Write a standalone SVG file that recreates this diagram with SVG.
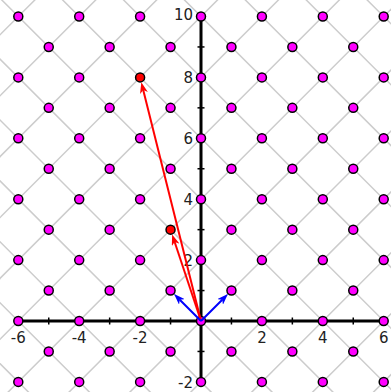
<svg xmlns="http://www.w3.org/2000/svg" width="391" height="392" viewBox="0 0 391 392">
<style>
.grid line{stroke:#cccccc;stroke-width:1.5}
.axis{stroke:#000;stroke-width:3}
.tick{stroke:#000;stroke-width:1.5}
.lbl{font-family:"DejaVu Sans",sans-serif;font-size:15px;fill:#222}
.lx{text-anchor:middle}
.ly{text-anchor:end}
.pt{fill:#ff00ff;stroke:#000;stroke-width:1.5}
.ptr{fill:#ff0000;stroke:#000;stroke-width:1.5}
.ar{stroke:#ff0000;stroke-width:2;fill:none}
.ab{stroke:#0000ff;stroke-width:2;fill:none}
</style>
<defs>
<marker id="hr" viewBox="0 0 11 8" markerWidth="11" markerHeight="8" refX="3" refY="4" orient="auto" markerUnits="userSpaceOnUse"><path d="M0,0 L11,4 L0,8 L3,4 z" fill="#ff0000"/></marker>
<marker id="hb" viewBox="0 0 11 8" markerWidth="11" markerHeight="8" refX="3" refY="4" orient="auto" markerUnits="userSpaceOnUse"><path d="M0,0 L11,4 L0,8 L3,4 z" fill="#0000ff"/></marker>
</defs>
<rect width="391" height="392" fill="#fff"/>
<g class="grid">
<line x1="-10" y1="44.8" x2="44.8" y2="-10"/>
<line x1="-10" y1="105.7" x2="105.7" y2="-10"/>
<line x1="-10" y1="166.6" x2="166.6" y2="-10"/>
<line x1="-10" y1="227.5" x2="227.5" y2="-10"/>
<line x1="-10" y1="288.4" x2="288.4" y2="-10"/>
<line x1="-10" y1="349.3" x2="349.3" y2="-10"/>
<line x1="-10" y1="410.2" x2="410.2" y2="-10"/>
<line x1="-10" y1="471.1" x2="471.1" y2="-10"/>
<line x1="-10" y1="532" x2="532" y2="-10"/>
<line x1="-10" y1="592.9" x2="592.9" y2="-10"/>
<line x1="-10" y1="653.8" x2="653.8" y2="-10"/>
<line x1="-10" y1="714.7" x2="714.7" y2="-10"/>
<line x1="-10" y1="775.6" x2="775.6" y2="-10"/>
<line x1="-10" y1="353.6" x2="410" y2="773.6"/>
<line x1="-10" y1="292.7" x2="410" y2="712.7"/>
<line x1="-10" y1="231.8" x2="410" y2="651.8"/>
<line x1="-10" y1="170.9" x2="410" y2="590.9"/>
<line x1="-10" y1="110" x2="410" y2="530"/>
<line x1="-10" y1="49.1" x2="410" y2="469.1"/>
<line x1="-10" y1="-11.8" x2="410" y2="408.2"/>
<line x1="-10" y1="-72.7" x2="410" y2="347.3"/>
<line x1="-10" y1="-133.6" x2="410" y2="286.4"/>
<line x1="-10" y1="-194.5" x2="410" y2="225.5"/>
<line x1="-10" y1="-255.4" x2="410" y2="164.6"/>
<line x1="-10" y1="-316.3" x2="410" y2="103.7"/>
<line x1="-10" y1="-377.2" x2="410" y2="42.8"/>
</g>
<g id="axes">
<line class="axis" x1="18.3" y1="321" x2="383.7" y2="321"/>
<line class="axis" x1="201" y1="16.5" x2="201" y2="381.9"/>
<g class="tick">
<line x1="48.75" y1="317.5" x2="48.75" y2="324.5"/>
<line x1="109.65" y1="317.5" x2="109.65" y2="324.5"/>
<line x1="170.55" y1="317.5" x2="170.55" y2="324.5"/>
<line x1="231.45" y1="317.5" x2="231.45" y2="324.5"/>
<line x1="292.35" y1="317.5" x2="292.35" y2="324.5"/>
<line x1="353.25" y1="317.5" x2="353.25" y2="324.5"/>
<line x1="197.5" y1="46.95" x2="204.5" y2="46.95"/>
<line x1="197.5" y1="107.85" x2="204.5" y2="107.85"/>
<line x1="197.5" y1="168.75" x2="204.5" y2="168.75"/>
<line x1="197.5" y1="229.65" x2="204.5" y2="229.65"/>
<line x1="197.5" y1="290.55" x2="204.5" y2="290.55"/>
<line x1="197.5" y1="351.45" x2="204.5" y2="351.45"/>
</g>
<g class="lbl">
<text class="lx" x="18.3" y="343">-6</text>
<text class="lx" x="79.2" y="343">-4</text>
<text class="lx" x="140.1" y="343">-2</text>
<text class="lx" x="261.9" y="343">2</text>
<text class="lx" x="322.8" y="343">4</text>
<text class="lx" x="383.7" y="343">6</text>
<text class="ly" x="193" y="19.5">10</text>
<text class="ly" x="193" y="83.1">8</text>
<text class="ly" x="193" y="144">6</text>
<text class="ly" x="193" y="204.9">4</text>
<text class="ly" x="193" y="265.8">2</text>
<text class="ly" x="193" y="387.6">-2</text>
</g>
</g>
<g id="points">
<g id="p-6_10"><circle class="pt" cx="18.3" cy="16.5" r="4.5"/></g>
<g id="p-4_10"><circle class="pt" cx="79.2" cy="16.5" r="4.5"/></g>
<g id="p-2_10"><circle class="pt" cx="140.1" cy="16.5" r="4.5"/></g>
<g id="p0_10"><circle class="pt" cx="201" cy="16.5" r="4.5"/></g>
<g id="p2_10"><circle class="pt" cx="261.9" cy="16.5" r="4.5"/></g>
<g id="p4_10"><circle class="pt" cx="322.8" cy="16.5" r="4.5"/></g>
<g id="p6_10"><circle class="pt" cx="383.7" cy="16.5" r="4.5"/></g>
<g id="p-5_9"><circle class="pt" cx="48.75" cy="46.95" r="4.5"/></g>
<g id="p-3_9"><circle class="pt" cx="109.65" cy="46.95" r="4.5"/></g>
<g id="p-1_9"><circle class="pt" cx="170.55" cy="46.95" r="4.5"/></g>
<g id="p1_9"><circle class="pt" cx="231.45" cy="46.95" r="4.5"/></g>
<g id="p3_9"><circle class="pt" cx="292.35" cy="46.95" r="4.5"/></g>
<g id="p5_9"><circle class="pt" cx="353.25" cy="46.95" r="4.5"/></g>
<g id="p-6_8"><circle class="pt" cx="18.3" cy="77.4" r="4.5"/></g>
<g id="p-4_8"><circle class="pt" cx="79.2" cy="77.4" r="4.5"/></g>
<g id="p-2_8"><circle class="ptr" cx="140.1" cy="77.4" r="4.5"/></g>
<g id="p0_8"><circle class="pt" cx="201" cy="77.4" r="4.5"/></g>
<g id="p2_8"><circle class="pt" cx="261.9" cy="77.4" r="4.5"/></g>
<g id="p4_8"><circle class="pt" cx="322.8" cy="77.4" r="4.5"/></g>
<g id="p6_8"><circle class="pt" cx="383.7" cy="77.4" r="4.5"/></g>
<g id="p-5_7"><circle class="pt" cx="48.75" cy="107.85" r="4.5"/></g>
<g id="p-3_7"><circle class="pt" cx="109.65" cy="107.85" r="4.5"/></g>
<g id="p-1_7"><circle class="pt" cx="170.55" cy="107.85" r="4.5"/></g>
<g id="p1_7"><circle class="pt" cx="231.45" cy="107.85" r="4.5"/></g>
<g id="p3_7"><circle class="pt" cx="292.35" cy="107.85" r="4.5"/></g>
<g id="p5_7"><circle class="pt" cx="353.25" cy="107.85" r="4.5"/></g>
<g id="p-6_6"><circle class="pt" cx="18.3" cy="138.3" r="4.5"/></g>
<g id="p-4_6"><circle class="pt" cx="79.2" cy="138.3" r="4.5"/></g>
<g id="p-2_6"><circle class="pt" cx="140.1" cy="138.3" r="4.5"/></g>
<g id="p0_6"><circle class="pt" cx="201" cy="138.3" r="4.5"/></g>
<g id="p2_6"><circle class="pt" cx="261.9" cy="138.3" r="4.5"/></g>
<g id="p4_6"><circle class="pt" cx="322.8" cy="138.3" r="4.5"/></g>
<g id="p6_6"><circle class="pt" cx="383.7" cy="138.3" r="4.5"/></g>
<g id="p-5_5"><circle class="pt" cx="48.75" cy="168.75" r="4.5"/></g>
<g id="p-3_5"><circle class="pt" cx="109.65" cy="168.75" r="4.5"/></g>
<g id="p-1_5"><circle class="pt" cx="170.55" cy="168.75" r="4.5"/></g>
<g id="p1_5"><circle class="pt" cx="231.45" cy="168.75" r="4.5"/></g>
<g id="p3_5"><circle class="pt" cx="292.35" cy="168.75" r="4.5"/></g>
<g id="p5_5"><circle class="pt" cx="353.25" cy="168.75" r="4.5"/></g>
<g id="p-6_4"><circle class="pt" cx="18.3" cy="199.2" r="4.5"/></g>
<g id="p-4_4"><circle class="pt" cx="79.2" cy="199.2" r="4.5"/></g>
<g id="p-2_4"><circle class="pt" cx="140.1" cy="199.2" r="4.5"/></g>
<g id="p0_4"><circle class="pt" cx="201" cy="199.2" r="4.5"/></g>
<g id="p2_4"><circle class="pt" cx="261.9" cy="199.2" r="4.5"/></g>
<g id="p4_4"><circle class="pt" cx="322.8" cy="199.2" r="4.5"/></g>
<g id="p6_4"><circle class="pt" cx="383.7" cy="199.2" r="4.5"/></g>
<g id="p-5_3"><circle class="pt" cx="48.75" cy="229.65" r="4.5"/></g>
<g id="p-3_3"><circle class="pt" cx="109.65" cy="229.65" r="4.5"/></g>
<g id="p-1_3"><circle class="ptr" cx="170.55" cy="229.65" r="4.5"/></g>
<g id="p1_3"><circle class="pt" cx="231.45" cy="229.65" r="4.5"/></g>
<g id="p3_3"><circle class="pt" cx="292.35" cy="229.65" r="4.5"/></g>
<g id="p5_3"><circle class="pt" cx="353.25" cy="229.65" r="4.5"/></g>
<g id="p-6_2"><circle class="pt" cx="18.3" cy="260.1" r="4.5"/></g>
<g id="p-4_2"><circle class="pt" cx="79.2" cy="260.1" r="4.5"/></g>
<g id="p-2_2"><circle class="pt" cx="140.1" cy="260.1" r="4.5"/></g>
<g id="p0_2"><circle class="pt" cx="201" cy="260.1" r="4.5"/></g>
<g id="p2_2"><circle class="pt" cx="261.9" cy="260.1" r="4.5"/></g>
<g id="p4_2"><circle class="pt" cx="322.8" cy="260.1" r="4.5"/></g>
<g id="p6_2"><circle class="pt" cx="383.7" cy="260.1" r="4.5"/></g>
<g id="p-5_1"><circle class="pt" cx="48.75" cy="290.55" r="4.5"/></g>
<g id="p-3_1"><circle class="pt" cx="109.65" cy="290.55" r="4.5"/></g>
<g id="p-1_1"><circle class="pt" cx="170.55" cy="290.55" r="4.5"/></g>
<g id="p1_1"><circle class="pt" cx="231.45" cy="290.55" r="4.5"/></g>
<g id="p3_1"><circle class="pt" cx="292.35" cy="290.55" r="4.5"/></g>
<g id="p5_1"><circle class="pt" cx="353.25" cy="290.55" r="4.5"/></g>
<g id="p-6_0"><circle class="pt" cx="18.3" cy="321" r="4.5"/></g>
<g id="p-4_0"><circle class="pt" cx="79.2" cy="321" r="4.5"/></g>
<g id="p-2_0"><circle class="pt" cx="140.1" cy="321" r="4.5"/></g>
<g id="p0_0"><circle class="pt" cx="201" cy="321" r="4.5"/></g>
<g id="p2_0"><circle class="pt" cx="261.9" cy="321" r="4.5"/></g>
<g id="p4_0"><circle class="pt" cx="322.8" cy="321" r="4.5"/></g>
<g id="p6_0"><circle class="pt" cx="383.7" cy="321" r="4.5"/></g>
<g id="p-5_-1"><circle class="pt" cx="48.75" cy="351.45" r="4.5"/></g>
<g id="p-3_-1"><circle class="pt" cx="109.65" cy="351.45" r="4.5"/></g>
<g id="p-1_-1"><circle class="pt" cx="170.55" cy="351.45" r="4.5"/></g>
<g id="p1_-1"><circle class="pt" cx="231.45" cy="351.45" r="4.5"/></g>
<g id="p3_-1"><circle class="pt" cx="292.35" cy="351.45" r="4.5"/></g>
<g id="p5_-1"><circle class="pt" cx="353.25" cy="351.45" r="4.5"/></g>
<g id="p-6_-2"><circle class="pt" cx="18.3" cy="381.9" r="4.5"/></g>
<g id="p-4_-2"><circle class="pt" cx="79.2" cy="381.9" r="4.5"/></g>
<g id="p-2_-2"><circle class="pt" cx="140.1" cy="381.9" r="4.5"/></g>
<g id="p0_-2"><circle class="pt" cx="201" cy="381.9" r="4.5"/></g>
<g id="p2_-2"><circle class="pt" cx="261.9" cy="381.9" r="4.5"/></g>
<g id="p4_-2"><circle class="pt" cx="322.8" cy="381.9" r="4.5"/></g>
<g id="p6_-2"><circle class="pt" cx="383.7" cy="381.9" r="4.5"/></g>
</g>
<g id="connectors">
<line class="ar" x1="201" y1="321" x2="143.24" y2="90.01" marker-end="url(#hr)"/>
<line class="ar" x1="201" y1="321" x2="174.66" y2="241.98" marker-end="url(#hr)"/>
<line class="ab" x1="201" y1="321" x2="222.25" y2="299.75" marker-end="url(#hb)"/>
<line class="ab" x1="201" y1="321" x2="179.75" y2="299.75" marker-end="url(#hb)"/>
</g>
</svg>
